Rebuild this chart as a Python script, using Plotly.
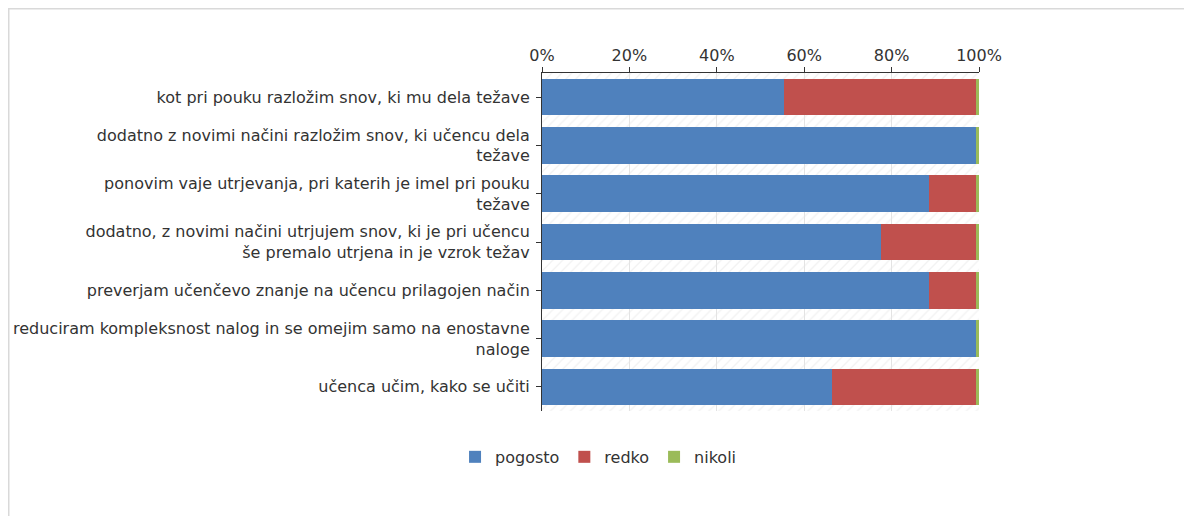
import plotly.graph_objects as go

categories = [
    "kot pri pouku razložim snov, ki mu dela težave",
    "dodatno z novimi načini razložim snov, ki učencu dela<br>težave",
    "ponovim vaje utrjevanja, pri katerih je imel pri pouku<br>težave",
    "dodatno, z novimi načini utrjujem snov, ki je pri učencu<br>še premalo utrjena in je vzrok težav",
    "preverjam učenčevo znanje na učencu prilagojen način",
    "reduciram kompleksnost nalog in se omejim samo na enostavne<br>naloge",
    "učenca učim, kako se učiti",
]
pogosto = [55.4, 99.3, 88.5, 77.5, 88.5, 99.3, 66.4]
redko = [43.9, 0.0, 10.8, 21.8, 10.8, 0.0, 32.9]
nikoli = [0.7, 0.7, 0.7, 0.7, 0.7, 0.7, 0.7]
background = [100] * len(categories)
tick_vals = [0, 20, 40, 60, 80, 100]
tick_text = ["0%", "20%", "40%", "60%", "80%", "100%"]

colors = {"pogosto": "#4F81BD", "redko": "#C0504D", "nikoli": "#9BBB59"}
FONT = "DejaVu Sans"

L, T, PW, PH = 534, 65, 437, 338

fig = go.Figure()
# hatched plot-area background
fig.add_trace(go.Bar(
    y=categories, x=background, orientation="h", width=1,
    marker=dict(color="rgba(0,0,0,0)", line=dict(width=0),
                pattern=dict(shape="/", fgcolor="#e6e6e6", bgcolor="rgba(0,0,0,0)",
                             size=7, solidity=0.2, fillmode="overlay")),
    showlegend=False, hoverinfo="skip", yaxis="y",
))
for name, vals in [("pogosto", pogosto), ("redko", redko), ("nikoli", nikoli)]:
    fig.add_trace(go.Bar(
        y=categories, x=vals, orientation="h", name=name,
        marker=dict(color=colors[name], line=dict(width=0)),
        yaxis="y2",
    ))

fig.update_layout(
    width=1192, height=516,
    barmode="stack", bargap=0.245,
    paper_bgcolor="white", plot_bgcolor="white",
    margin=dict(l=L, r=1192 - L - PW, t=T, b=516 - T - PH, autoexpand=False),
    font=dict(family=FONT, size=16, color="#333333"),
    xaxis=dict(
        side="top", range=[0, 100], tickvals=tick_vals, ticktext=tick_text,
        showgrid=True, gridcolor="#e3e3e3", gridwidth=1,
        showline=True, linecolor="#333333", linewidth=1,
        ticks="outside", ticklen=5, tickcolor="#333333",
        tickfont=dict(size=16, color="#333333", family=FONT),
        zeroline=False, fixedrange=True, automargin=False,
    ),
    yaxis=dict(
        type="category", categoryorder="array", categoryarray=categories,
        autorange="reversed",
        showline=True, linecolor="#333333", linewidth=1,
        ticks="outside", ticklen=5, tickcolor="#333333",
        ticklabelstandoff=3,
        tickfont=dict(size=16, color="#333333", family=FONT),
        showgrid=False, zeroline=False, automargin=False,
    ),
    yaxis2=dict(
        type="category", categoryorder="array", categoryarray=categories,
        autorange="reversed", overlaying="y", visible=False, automargin=False,
    ),
    legend=dict(
        orientation="h", xref="container", x=0.495, xanchor="center",
        yref="container", y=0.13, yanchor="middle",
        font=dict(size=16, color="#333333", family=FONT),
        itemwidth=30, traceorder="normal",
    ),
    shapes=[dict(
        type="rect", xref="paper", yref="paper",
        x0=(0.5 - L) / PW, x1=(1250 - L) / PW,
        y0=-0.5, y1=(T + PH - 0.5) / PH,
        line=dict(color="#d9d9d9", width=2), fillcolor="rgba(0,0,0,0)", layer="below",
    )],
)

fig.write_html("out.html")
